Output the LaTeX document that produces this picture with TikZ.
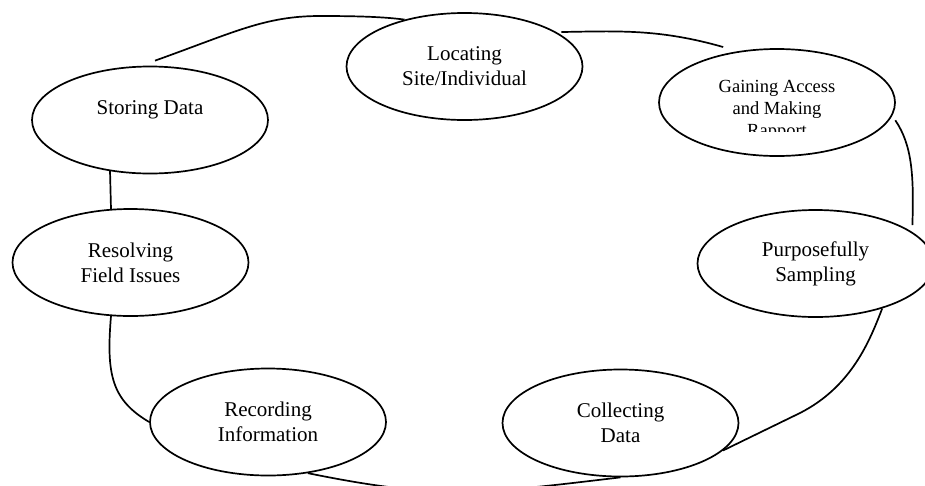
\documentclass[tikz,border=0pt]{standalone}
\usepackage{fontspec}
\setmainfont{Liberation Serif}
\usetikzlibrary{shapes.geometric}
\begin{document}
\begin{tikzpicture}[x=1pt,y=-1pt,
  stage/.style={draw, ellipse, line width=1.7pt, minimum width=236pt, minimum height=107pt, inner sep=0pt, align=center, font=\fontsize{21}{25}\selectfont},
  link/.style={line width=1.7pt},
  smalltext/.style={inner sep=0pt, align=center, font=\fontsize{18.5}{22}\selectfont}]
\useasboundingbox (0,0) rectangle (925,485);
\clip (0,0) rectangle (925,485);
\node[stage] (loc) at (464.5,66.5) {Locating\\Site/Individual};
\node[stage] (gain) at (777,102.5) {};
\node[stage] (store) at (150,120) {Storing Data\\\mbox{}};
\node[stage] (resolve) at (130.5,262.5) {Resolving\\Field Issues};
\node[stage] (purp) at (815.5,263.5) {Purposefully\\Sampling};
\node[stage] (record) at (268,422) {Recording\\Information};
\node[stage] (collect) at (620.5,423) {Collecting\\Data};
\begin{scope}
\clip (690,70) rectangle (865,131);
\node[smalltext] (gaintext) at (777,110.7) {Gaining Access\\and Making\\Rapport};
\end{scope}
\draw[link] ([shift={(5pt,5pt)}]store.north) .. controls (235,32) and (265,16) .. (320,16) .. controls (360,16) and (385,17) .. (loc.142);
\draw[link] ([yshift=3pt]loc.18) .. controls (620,31) and (660,29) .. ([yshift=7pt]gain.138);
\draw[link] ([xshift=6pt]gain.-9) .. controls (912,145) and (914,175) .. ([yshift=7pt]purp.18);
\draw[link] (purp.-34) .. controls (870,340) and (852,386.5) .. (800,413) -- (collect.-15);
\draw[link] (record.-52) .. controls (440,500) and (480,494) .. (collect.south);
\draw[link] (resolve.-110) .. controls (106,375) and (112,400) .. (record.west);
\draw[link] (store.-128) -- (resolve.110);
\end{tikzpicture}
\end{document}
